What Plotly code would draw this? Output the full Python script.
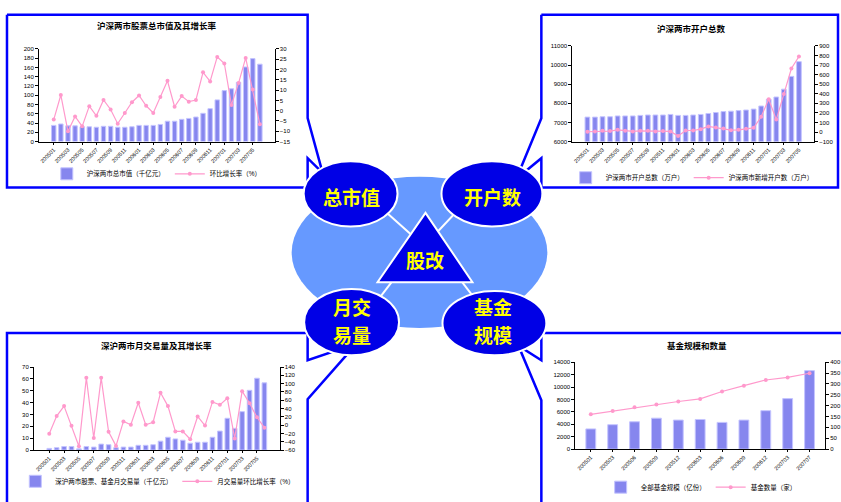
import plotly.graph_objects as go

W, H = 841, 502

# ---- monthly data, 2005-01 .. 2007-06 ----
months = ["200501", "200502", "200503", "200504", "200505", "200506",
          "200507", "200508", "200509", "200510", "200511", "200512",
          "200601", "200602", "200603", "200604", "200605", "200606",
          "200607", "200608", "200609", "200610", "200611", "200612",
          "200701", "200702", "200703", "200704", "200705", "200706"]

# 沪深两市股票总市值（千亿元）及环比增长率（%）
mv_value = [35, 38, 34, 34, 32, 32, 31, 33, 33, 31, 31, 32, 35, 35, 35,
            37, 44, 44, 48, 50, 53, 61, 71, 90, 110, 114, 128, 161, 179, 167]
mv_growth = [-4.3, 7.6, -10.0, -2.8, -7.6, 2.2, -2.5, 5.2, 0.6, -6.3,
             -1.1, 4.1, 7.4, 2.4, -1.1, 6.6, 14.5, 1.9, 7.1, 4.4,
             5.2, 18.6, 14.2, 26.1, 22.9, 2.8, 13.4, 25.6, 10.3, -6.6]

# 沪深两市开户总数 / 新增开户数（万户）, 2005-01 .. 2007-05
acct_months = months[:29]
acct_total = [7280, 7280, 7300, 7300, 7340, 7340, 7340, 7370, 7390, 7390,
              7390, 7420, 7370, 7370, 7390, 7420, 7470, 7520, 7570, 7590,
              7620, 7650, 7700, 7860, 8220, 8330, 8740, 9410, 10180]
acct_new = [3, 6, 13, 10, 23, 13, 6, 13, 13, 6, 10, 6, -42, 16, 16, 30,
            58, 47, 37, 20, 23, 34, 44, 160, 342, 130, 397, 664, 790]

# 深沪两市股票、基金月交易量（千亿元）及环比增长率（%）
turnover = [1.4, 2.0, 3.0, 3.0, 1.0, 3.0, 2.5, 5.0, 4.5, 2.0, 2.5, 2.5,
            4.0, 4.0, 4.5, 7.5, 10.8, 9.4, 8.3, 5.8, 6.6, 6.6, 10.8, 16.0,
            26.8, 18.3, 32.4, 50.4, 60.6, 56.7]
turnover_growth = [-20.5, 22, 46, -1.5, -51, 114, -31, 114, -16, -50, 9, 1,
                   54, 1, 7, 78, 46, -15, -15, -34, 21, -1, 56, 49, 65, -32,
                   82, 53, 19, -6]

# 全部基金规模（亿份）与基金数量（家）
fund_periods = ["200501", "200503", "200506", "200509", "200512", "200603",
                "200606", "200609", "200612", "200703", "200707"]
fund_size = [3250, 3930, 4400, 4980, 4670, 4770, 4300, 4670, 6190, 8130, 12640]
fund_count = [160, 175, 192, 205, 219, 231, 265, 292, 318, 330, 349]

# ---- styling ----
BAR = "#8686EE"
BAR_EDGE = "#C4C4FF"
PINK = "#FF99CC"
BLUE = "#0000FF"
DARK = "#0000E6"
LIGHT = "#6699FF"
FONT = "Liberation Sans, Noto Sans CJK SC, sans-serif"
CJK = "Noto Sans CJK SC, sans-serif"


def fx(px):
    return px / W


def fy(py):
    return 1 - py / H


def pt(px, py):
    return f"{fx(px):.5f},{fy(py):.5f}"


def axis(**kw):
    d = dict(showline=True, linecolor="black", linewidth=1, ticks="outside",
             ticklen=3, tickcolor="black", tickfont=dict(size=6, color="black"),
             showgrid=False, zeroline=False)
    d.update(kw)
    return d


fig = go.Figure()


def add_pair(xs, bars, line, xa, ya, ya2, legend, bar_name, line_name, width):
    fig.add_trace(go.Bar(x=xs, y=bars, name=bar_name, xaxis=xa, yaxis=ya,
                         width=width, legend=legend,
                         marker=dict(color=BAR, line=dict(color=BAR_EDGE, width=1))))
    fig.add_trace(go.Scatter(x=xs, y=line, name=line_name, xaxis=xa, yaxis=ya2,
                             mode="lines+markers", legend=legend,
                             line=dict(color=PINK, width=1.2),
                             marker=dict(symbol="circle", size=4, color=PINK)))


add_pair(months, mv_value, mv_growth, "x", "y", "y2", "legend",
         "沪深两市总市值（千亿元）", "环比增长率（%）", 0.62)
add_pair(acct_months, acct_total, acct_new, "x2", "y3", "y4", "legend2",
         "沪深两市开户总数（万户）", "沪深两市新增开户数（万户）", 0.62)
add_pair(months, turnover, turnover_growth, "x3", "y5", "y6", "legend3",
         "深沪两市股票、基金月交易量（千亿元）", "月交易量环比增长率（%）", 0.62)
add_pair(fund_periods, fund_size, fund_count, "x4", "y7", "y8", "legend4",
         "全部基金规模（亿份）", "基金数量（家）", 0.45)

xt = dict(type="category", tickangle=-45, tickfont=dict(size=5.5, color="black"), ticklen=2)
yt = dict(tickformat="d")

fig.update_layout(
    xaxis=axis(domain=[fx(39), fx(275)], anchor="y", tickvals=months[::2], **xt),
    yaxis=axis(domain=[fy(142), fy(47)], anchor="x", range=[0, 200], dtick=20, **yt),
    yaxis2=axis(overlaying="y", side="right", anchor="x", range=[-15, 30], dtick=5, **yt),

    xaxis2=axis(domain=[fx(573), fx(815)], anchor="y3", tickvals=acct_months[::2], **xt),
    yaxis3=axis(domain=[fy(142), fy(44)], anchor="x2", range=[6000, 11000], dtick=1000, **yt),
    yaxis4=axis(overlaying="y3", side="right", anchor="x2", range=[-100, 900], dtick=100, **yt),

    xaxis3=axis(domain=[fx(34), fx(280)], anchor="y5", tickvals=months[::2], **xt),
    yaxis5=axis(domain=[fy(458), fy(373)], anchor="x3", range=[0, 70], dtick=10, **yt),
    yaxis6=axis(overlaying="y5", side="right", anchor="x3", range=[-60, 140], dtick=20, **yt),

    xaxis4=axis(domain=[fx(576), fx(826)], anchor="y7", tickvals=fund_periods, **xt),
    yaxis7=axis(domain=[fy(457), fy(368)], anchor="x4", range=[0, 14000], dtick=2000, **yt),
    yaxis8=axis(overlaying="y7", side="right", anchor="x4", range=[0, 400], dtick=50, **yt),
)

leg = dict(orientation="h", xanchor="center", yanchor="middle",
           font=dict(size=6.5, color="black", family=FONT),
           bgcolor="rgba(0,0,0,0)", itemwidth=30, tracegroupgap=0)
fig.update_layout(
    legend=dict(leg, x=fx(157), y=fy(175)),
    legend2=dict(leg, x=fx(693), y=fy(179)),
    legend3=dict(leg, x=fx(158), y=fy(490)),
    legend4=dict(leg, x=fx(702), y=fy(496)),
)

# ---- callout frames around the four charts ----
shapes = []
frame = dict(type="path", xref="paper", yref="paper",
             line=dict(color=BLUE, width=2.5), fillcolor="rgba(0,0,0,0)", layer="above")
callouts = [
    [(7, 12), (308, 12), (308, 118), (323, 174), (308, 159), (308, 189), (7, 189), (7, 12)],
    [(542, 12), (839, 12), (839, 189), (542, 189), (542, 159), (517, 180), (542, 118), (542, 12)],
    [(7, 520), (7, 338), (308, 338), (308, 366), (357, 349), (308, 406), (308, 520)],
    [(860, 338), (542, 338), (542, 366), (519, 351), (542, 407), (542, 520)],
]
for pts in callouts:
    shapes.append(dict(frame, path="M" + " L".join(pt(a, b) for a, b in pts)))


def ellipse(cx, cy, rx, ry, fill, edge=None, ew=0):
    return dict(type="circle", xref="paper", yref="paper", layer="above",
                x0=fx(cx - rx), x1=fx(cx + rx), y0=fy(cy + ry), y1=fy(cy - ry),
                fillcolor=fill, line=dict(color=edge or fill, width=ew))


# central diagram
shapes.append(ellipse(420, 255.5, 128, 77.5, LIGHT))
for (a, b), (c, d) in [((383, 211), (418, 243)), ((465, 205), (432, 241)),
                       ((380, 302), (398, 278)), ((456, 277), (474, 301))]:
    shapes.append(dict(type="line", xref="paper", yref="paper", layer="above",
                       x0=fx(a), y0=fy(b), x1=fx(c), y1=fy(d),
                       line=dict(color="white", width=2)))
nodes = [(351, 195.5, 47, 33.5), (492.5, 195.5, 50.5, 33.5),
         (352, 327, 47.5, 34), (495, 328, 52, 33)]
for cx, cy, rx, ry in nodes:
    shapes.append(ellipse(cx, cy, rx, ry, DARK, "white", 2))
shapes.append(dict(type="path", xref="paper", yref="paper", layer="above",
                   path=f"M{pt(426, 215)} L{pt(378, 286)} L{pt(473, 286)} Z",
                   fillcolor=DARK, line=dict(color="white", width=2)))
fig.update_layout(shapes=shapes)

# ---- text ----
ann = []


def label(text, x, y, size, color):
    ann.append(dict(text=f"<b>{text}</b>", x=fx(x), y=fy(y), xref="paper", yref="paper",
                    xanchor="center", yanchor="middle", showarrow=False, borderpad=0,
                    font=dict(size=size, color=color, family=CJK)))


titles = [("沪深两市股票总市值及其增长率", 157, 23), ("沪深两市开户总数", 692, 26),
          ("深沪两市月交易量及其增长率", 157, 350), ("基金规模和数量", 698, 350)]
for t, x, y in titles:
    label(t, x, y, 8.5, "black")

node_text = [("总市值", 352, 198), ("开户数", 493, 198),
             ("月交", 352, 311), ("易量", 352, 340),
             ("基金", 494, 311), ("规模", 494, 340), ("股改", 426, 263)]
for t, x, y in node_text:
    label(t, x, y, 19, "#FFFF00")
fig.update_layout(annotations=ann)

fig.update_layout(width=W, height=H, margin=dict(l=0, r=0, t=0, b=0),
                  paper_bgcolor="white", plot_bgcolor="rgba(0,0,0,0)",
                  font=dict(family=FONT, color="black"), showlegend=True)

fig.write_html("out.html")
